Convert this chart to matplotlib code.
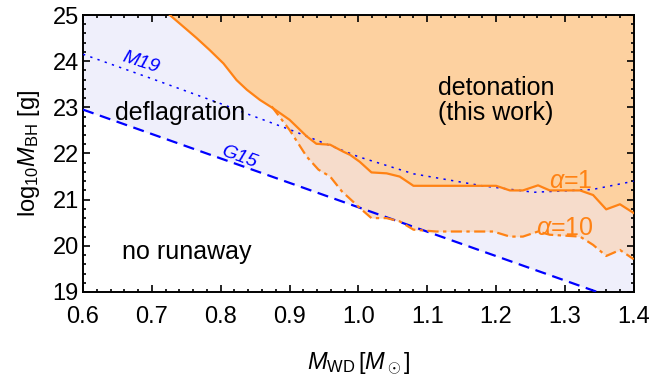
import numpy as np
import matplotlib
matplotlib.use("Agg")
import matplotlib.pyplot as plt
from matplotlib.ticker import MultipleLocator, FormatStrFormatter

plt.rcParams['font.family'] = ['Liberation Sans', 'DejaVu Sans']
plt.rcParams['mathtext.fontset'] = 'custom'
plt.rcParams['mathtext.rm'] = 'Liberation Sans'
plt.rcParams['mathtext.it'] = 'Liberation Sans:italic'

# G15 (dashed) and M19 (dotted) boundaries
g15_m = [0.6, 1.4]
g15_y = [22.95, 18.72]
m19_m = [0.6, 0.7, 0.8, 0.84, 0.9, 1.0, 1.08, 1.18, 1.255, 1.34, 1.4]
m19_y = [24.15, 23.62, 23.08, 22.85, 22.52, 21.93, 21.56, 21.30, 21.16, 21.22, 21.40]

# detonation threshold, alpha = 1 (solid)
a1_m = [0.726, 0.751, 0.765, 0.784, 0.804, 0.823, 0.838, 0.857, 0.876, 0.900,
        0.925, 0.939, 0.959, 0.978, 0.988, 1.002, 1.019, 1.041, 1.060, 1.080,
        1.200, 1.220, 1.239, 1.261, 1.278, 1.322, 1.341, 1.360, 1.380, 1.400]
a1_y = [25.0, 24.68, 24.50, 24.24, 23.95, 23.59, 23.38, 23.16, 22.98, 22.73,
        22.37, 22.21, 22.19, 22.04, 21.97, 21.82, 21.59, 21.57, 21.50, 21.30,
        21.30, 21.20, 21.20, 21.31, 21.20, 21.20, 21.10, 20.79, 20.90, 20.71]

# alpha = 10 (dash-dot)
a10_m = [0.874, 0.900, 0.925, 0.942, 0.959, 0.976, 0.992, 1.002, 1.019, 1.041,
         1.060, 1.080, 1.113, 1.196, 1.220, 1.239, 1.261, 1.278, 1.322, 1.341,
         1.360, 1.380, 1.400]
a10_y = [23.02, 22.51, 21.93, 21.65, 21.50, 21.18, 20.96, 20.82, 20.60, 20.60,
         20.53, 20.35, 20.31, 20.31, 20.20, 20.20, 20.31, 20.24, 20.20, 20.02,
         19.78, 19.91, 19.71]

lavender = '#efeffb'
peach = '#fdd1a0'
mid = '#f6dccb'
orange = '#ff8214'
blue = '#0000ff'

fig = plt.figure(figsize=(6.54, 3.79), dpi=100)
ax = fig.add_axes([0.127, 0.2296, 0.842, 0.7308])

# fills
ax.fill_between(g15_m, g15_y, 25, color=lavender, lw=0, zorder=0)
a1_at_a10 = np.interp(a10_m, a1_m, a1_y)
ax.fill_between(a10_m, a10_y, a1_at_a10, color=mid, lw=0, zorder=1)
ax.fill_between(a1_m, a1_y, 25, color=peach, lw=0, zorder=1)

# lines
ax.plot(g15_m, g15_y, color=blue, lw=1.6, dashes=(5, 3), zorder=3)
ax.plot(m19_m, m19_y, color=blue, lw=1.1, dashes=(1.5, 3.5), zorder=3)
ax.plot(a1_m, a1_y, color=orange, lw=1.6, zorder=4)
ax.plot(a10_m, a10_y, color=orange, lw=1.6, dashes=(5, 2, 1.5, 2), zorder=4)

# labels in the plot
ax.text(1.2, 23.15, 'detonation\n(this work)', fontsize=18, ha='center', va='center',
        linespacing=1.05)
ax.text(0.646, 22.87, 'deflagration', fontsize=18, ha='left', va='center')
ax.text(0.657, 19.87, 'no runaway', fontsize=18, ha='left', va='center')
ax.text(0.684, 23.98, 'M19', fontsize=14, color=blue, style='italic',
        rotation=-18, ha='center', va='center')
ax.text(0.827, 21.92, 'G15', fontsize=14, color=blue, style='italic',
        rotation=-20, ha='center', va='center')
ax.text(1.308, 21.41, r'$\alpha$=1', fontsize=18, color=orange, ha='center', va='center')
ax.text(1.300, 20.38, r'$\alpha$=10', fontsize=18, color=orange, ha='center', va='center')

ax.set_xlim(0.6, 1.4)
ax.set_ylim(19, 25)
ax.xaxis.set_major_locator(MultipleLocator(0.1))
ax.xaxis.set_minor_locator(MultipleLocator(0.02))
ax.yaxis.set_major_locator(MultipleLocator(1))
ax.yaxis.set_minor_locator(MultipleLocator(0.2))
ax.xaxis.set_major_formatter(FormatStrFormatter('%.1f'))
ax.tick_params(which='both', direction='in', top=True, right=True, labelsize=17, width=1.2)
ax.tick_params(axis='x', which='major', length=5, pad=10)
ax.tick_params(axis='y', which='major', length=5, pad=3)
ax.tick_params(which='minor', length=2.5)
for s in ax.spines.values():
    s.set_linewidth(1.4)

ax.set_xlabel(r'$M_{\rm WD}\,[M_\odot]$', fontsize=17, labelpad=16)
ax.set_ylabel(r'log$_{10}M_{\rm BH}$ [g]', fontsize=17, labelpad=8)

fig.savefig('out.png', dpi=100)
